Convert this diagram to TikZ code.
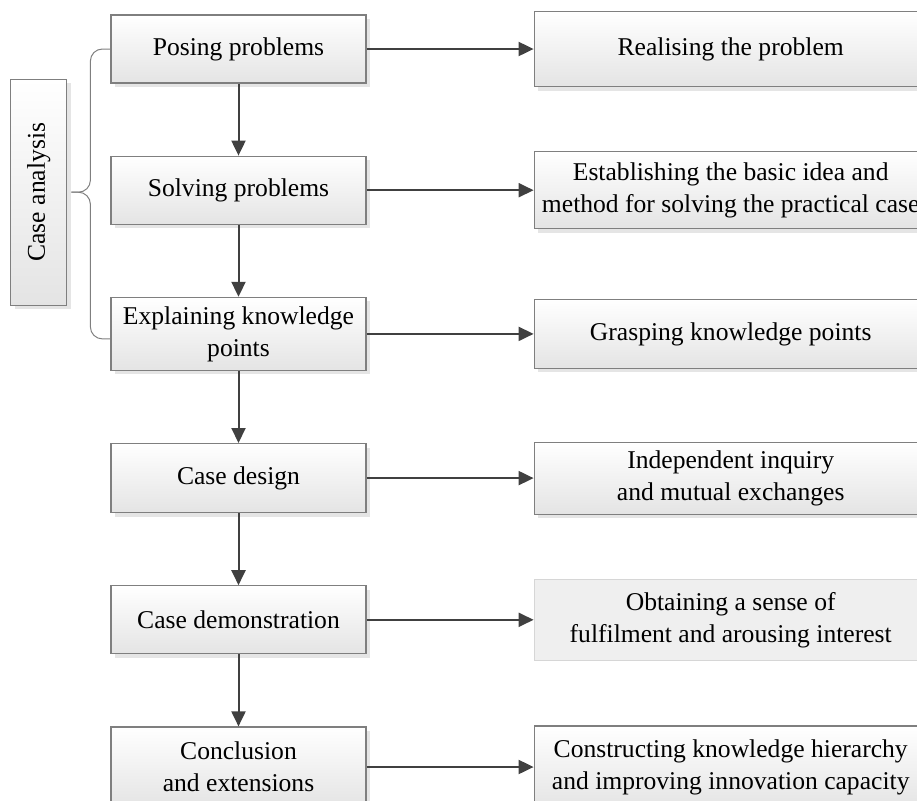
\documentclass[tikz,border=0pt]{standalone}
\usepackage{fontspec}
\setmainfont{Liberation Serif}
\usetikzlibrary{arrows.meta}
\usetikzlibrary{positioning}
\usetikzlibrary{shadows}

\definecolor{boxline}{HTML}{7F7F7F}
\definecolor{boxbottom}{HTML}{E4E4E4}
\definecolor{flatfill}{HTML}{EFEFEF}
\definecolor{flatline}{HTML}{D6D6D6}
\definecolor{linkline}{HTML}{404040}

\begin{document}
\begin{tikzpicture}[font=\fontsize{12.8}{16}\selectfont,node distance=36pt]
\tikzstyle{stage}=[draw=boxline,line width=0.6pt,rectangle,top color=white,bottom color=boxbottom,
  drop shadow={shadow xshift=2pt,shadow yshift=-2pt,fill=black!10,opacity=1},
  minimum width=127.5pt,minimum height=34pt,align=center,inner sep=2pt]
\tikzstyle{result}=[stage,minimum width=196.5pt]
\tikzstyle{flat}=[draw=flatline,line width=0.6pt,rectangle,fill=flatfill,
  minimum width=196.5pt,align=center,inner sep=2pt]
\tikzstyle{link}=[draw=linkline,line width=1pt,-{Triangle[length=7.5pt,width=7pt]}]
\tikzstyle{brace}=[draw=boxline,line width=0.5pt,rounded corners=6pt]
\useasboundingbox (0,0) rectangle (458.5pt,-400pt);

% left column
\node [stage] (posing) at (119.25pt,-24.5pt) {Posing problems};
\node [stage,below=of posing] (solving) {Solving problems};
\node [stage,below=of solving,minimum height=36.5pt] (explaining) {Explaining knowledge\\points};
\node [stage,below=of explaining,minimum height=34.5pt] (design) {Case design};
\node [stage,below=of design] (demo) {Case demonstration};
\node [stage,below=of demo,minimum height=40pt] (conclusion) {Conclusion\\and extensions};

% right column
\node [result,right=83.5pt of posing,minimum height=37.5pt] (realise) {Realising the problem};
\node [result,right=83.5pt of solving,minimum height=38.5pt] (establish) {Establishing the basic idea and\\method for solving the practical case};
\node [result,right=83.5pt of explaining,minimum height=34.5pt] (grasp) {Grasping knowledge points};
\node [result,right=83.5pt of design,minimum height=36pt] (inquiry) {Independent inquiry\\and mutual exchanges};
\node [flat,right=83.5pt of demo,minimum height=40.5pt] (fulfil) {Obtaining a sense of\\fulfilment and arousing interest};
\node [result,right=83.5pt of conclusion,minimum height=41pt] (hierarchy) {Constructing knowledge hierarchy\\and improving innovation capacity};

% case analysis bracket
\node [stage,rotate=90,minimum width=113pt,minimum height=28pt,anchor=south]
  (analysis) at ([xshift=-21.5pt,yshift=-1pt]solving.west) {Case analysis};
\coordinate (tip) at ([xshift=2pt]analysis.south);
\draw [brace] (posing.west) -| ([xshift=9.5pt]tip) -- (tip);
\draw [brace] ([yshift=-2.5pt]explaining.west) -| ([xshift=9.5pt]tip) -- (tip);

% arrows
\draw [link] (posing) -- (solving);
\draw [link] (solving) -- (explaining);
\draw [link] (explaining) -- (design);
\draw [link] (design) -- (demo);
\draw [link] (demo) -- (conclusion);
\draw [link] (posing) -- (realise);
\draw [link] (solving) -- (establish);
\draw [link] (explaining) -- (grasp);
\draw [link] (design) -- (inquiry);
\draw [link] (demo) -- (fulfil);
\draw [link] (conclusion) -- (hierarchy);
\end{tikzpicture}
\end{document}
